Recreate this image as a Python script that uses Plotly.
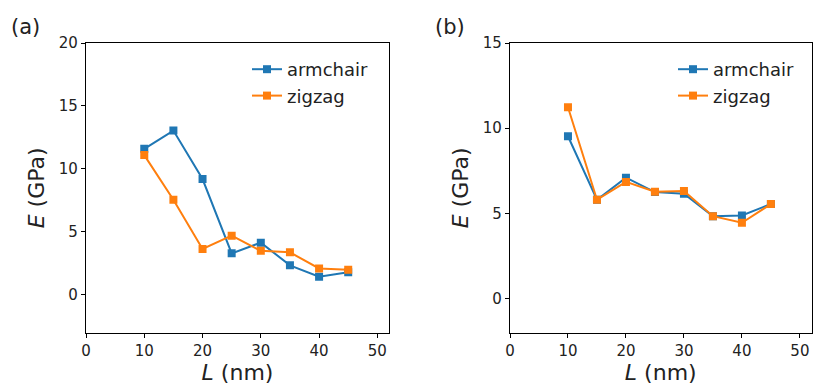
import plotly.graph_objects as go

L = [10, 15, 20, 25, 30, 35, 40, 45]
a_armchair = [11.6, 13.05, 9.2, 3.3, 4.15, 2.35, 1.45, 1.8]
a_zigzag = [11.1, 7.55, 3.65, 4.7, 3.5, 3.38, 2.1, 2.0]
b_armchair = [9.53, 5.8, 7.1, 6.25, 6.15, 4.84, 4.88, 5.55]
b_zigzag = [11.23, 5.8, 6.85, 6.27, 6.31, 4.84, 4.45, 5.55]

BLUE = "#1f77b4"
ORANGE = "#ff7f0e"
FONT = "DejaVu Sans"
W, H = 813, 385

fig = go.Figure()

def add(x, y, name, color, xa, ya, legend):
    fig.add_trace(go.Scatter(
        x=x, y=y, name=name, mode="lines+markers",
        line=dict(color=color, width=2),
        marker=dict(symbol="square", size=8, color=color),
        xaxis=xa, yaxis=ya, legend=legend))

add(L, a_armchair, "armchair", BLUE, "x", "y", "legend")
add(L, a_zigzag, "zigzag", ORANGE, "x", "y", "legend")
add(L, b_armchair, "armchair", BLUE, "x2", "y2", "legend2")
add(L, b_zigzag, "zigzag", ORANGE, "x2", "y2", "legend2")

ybot = (H - 332.7) / H
ytop = (H - 43) / H

axis_common = dict(
    showline=True, linecolor="black", linewidth=1.3, mirror=True,
    ticks="outside", ticklen=4, tickwidth=1.1, tickcolor="black",
    showgrid=False, zeroline=False, automargin=False,
    tickfont=dict(family=FONT, size=15, color="#222"),
)
TITLE_FONT = dict(family=FONT, size=22, color="#222")

fig.update_layout(
    width=W, height=H,
    margin=dict(l=0, r=0, t=0, b=0, autoexpand=False),
    paper_bgcolor="white", plot_bgcolor="white",
    font=dict(family=FONT, color="#222"),
    xaxis=dict(domain=[86 / W, 389 / W], range=[0, 52], tickvals=[0, 10, 20, 30, 40, 50],
               anchor="y",
               title=dict(text="<i>L</i> (nm)", font=TITLE_FONT, standoff=4),
               **axis_common),
    yaxis=dict(domain=[ybot, ytop], range=[-3, 20], tickvals=[0, 5, 10, 15, 20],
               anchor="x",
               title=dict(text="<i>E</i> (GPa)", font=TITLE_FONT, standoff=8),
               **axis_common),
    xaxis2=dict(domain=[510 / W, 811.5 / W], range=[0, 52], tickvals=[0, 10, 20, 30, 40, 50],
                anchor="y2",
                title=dict(text="<i>L</i> (nm)", font=TITLE_FONT, standoff=4),
                **axis_common),
    yaxis2=dict(domain=[ybot, ytop], range=[-2, 15], tickvals=[0, 5, 10, 15],
                anchor="x2",
                title=dict(text="<i>E</i> (GPa)", font=TITLE_FONT, standoff=8),
                **axis_common),
    legend=dict(x=247 / W, y=(H - 51) / H, xanchor="left", yanchor="top",
                bgcolor="rgba(0,0,0,0)", font=dict(family=FONT, size=18, color="#222"),
                tracegroupgap=2),
    legend2=dict(x=673 / W, y=(H - 51) / H, xanchor="left", yanchor="top",
                 bgcolor="rgba(0,0,0,0)", font=dict(family=FONT, size=18, color="#222"),
                 tracegroupgap=2),
    annotations=[
        dict(text="(a)", x=9 / W, y=(H - 27) / H, xref="paper", yref="paper",
             xanchor="left", yanchor="middle", showarrow=False,
             font=dict(family=FONT, size=21, color="#222")),
        dict(text="(b)", x=433 / W, y=(H - 27) / H, xref="paper", yref="paper",
             xanchor="left", yanchor="middle", showarrow=False,
             font=dict(family=FONT, size=21, color="#222")),
    ],
)

fig.write_html("out.html")
